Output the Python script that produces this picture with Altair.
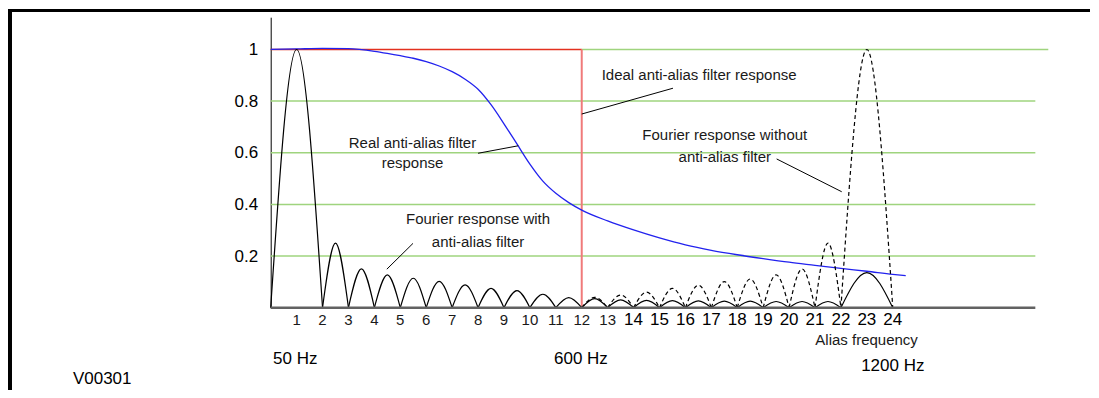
import altair as alt
import pandas as pd

NARROW = "Liberation Sans, Arial, sans-serif"
ARIAL = "Liberation Sans, Arial, sans-serif"

# ---- data ----
y_ticks = [0.2, 0.4, 0.6, 0.8, 1.0]
grid_y = [0.2, 0.4, 0.6, 0.8, 1.0]
grid_x0 = [0, 0, 0, 0, 12]
grid_x1 = [29.5, 29.5, 29.5, 29.5, 30]

xlab_narrow = [str(i) for i in range(1, 14)]
xlab_wide = [str(i) for i in range(14, 25)]

# Fourier response with anti-alias filter (solid arches)
solid_start = [0, 2, 3, 4, 5, 6, 7, 8, 9, 10, 11, 12, 13, 14, 15, 16, 17, 18, 19, 20, 21, 22]
solid_end = [2, 3, 4, 5, 6, 7, 8, 9, 10, 11, 12, 13, 14, 15, 16, 17, 18, 19, 20, 21, 22, 24]
solid_peak = [1.0, 0.25, 0.15, 0.127, 0.114, 0.102, 0.088, 0.075, 0.066, 0.052, 0.039,
              0.035, 0.030, 0.028, 0.027, 0.026, 0.025, 0.025, 0.024, 0.024, 0.024, 0.136]

# Fourier response without anti-alias filter (dashed arches)
dash_start = [12, 13, 14, 15, 16, 17, 18, 19, 20, 21, 22]
dash_end = [13, 14, 15, 16, 17, 18, 19, 20, 21, 22, 24]
dash_peak = [0.040, 0.049, 0.060, 0.075, 0.087, 0.101, 0.111, 0.127, 0.150, 0.250, 1.0]

# Real anti-alias filter response (blue)
real_x = [0, 1, 2, 3, 4, 4.5, 5, 5.5, 6, 6.5, 7, 7.5, 8, 8.5, 9, 9.5, 10, 10.5, 11, 11.5,
          12, 13, 14, 15, 16, 17, 18, 19, 20, 21, 22, 23, 24, 24.5]
real_y = [1.0, 1.002, 1.004, 1.003, 0.993, 0.985, 0.976, 0.966, 0.953, 0.936, 0.914, 0.885,
          0.846, 0.786, 0.712, 0.634, 0.556, 0.49, 0.443, 0.407,
          0.378, 0.336, 0.301, 0.27, 0.243, 0.222, 0.205, 0.19, 0.176,
          0.164, 0.152, 0.141, 0.129, 0.124]

# Ideal anti-alias filter response (red)
ideal_x = [0, 12]
ideal_level = 1.0

# annotations
ann_text = ["Ideal anti-alias filter response", "Real anti-alias filter", "response",
            "Fourier response without", "anti-alias filter",
            "Fourier response with", "anti-alias filter"]
ann_x = [12.77, 5.47, 5.47, 17.52, 17.52, 8.0, 8.0]
ann_y = [0.901, 0.639, 0.560, 0.669, 0.585, 0.342, 0.256]
ann_align = ["left", "center", "center", "center", "center", "center", "center"]

lead_x0 = [12.0, 8.0, 19.52, 4.48]
lead_y0 = [0.750, 0.598, 0.576, 0.149]
lead_x1 = [15.52, 9.55, 22.03, 5.49]
lead_y1 = [0.850, 0.627, 0.449, 0.249]

bottom_text = ["50 Hz", "600 Hz", "1200 Hz", "V00301"]
bottom_x = [0.09, 11.97, 24.0, -7.63]
bottom_y = [-0.199, -0.199, -0.225, -0.276]
bottom_align = ["left", "center", "center", "left"]

# ---- scales ----
W = 29.5 * 25.92
H = 1.125 * 258.2
xs = alt.Scale(domain=[0, 29.5], nice=False, zero=False)
ys = alt.Scale(domain=[0, 1.125], nice=False, zero=False)


def X(f="x"):
    return alt.X(f"{f}:Q", scale=xs, axis=None)


def Y(f="y"):
    return alt.Y(f"{f}:Q", scale=ys,
                 axis=alt.Axis(values=y_ticks, format=".1~f", title=None, ticks=False,
                               grid=False, domainColor="black", domainWidth=1,
                               labelFont=ARIAL, labelFontSize=17, labelColor="black",
                               labelPadding=13))


def arch_table(starts, ends, peaks):
    rows = []
    for i, (s, e, p) in enumerate(zip(starts, ends, peaks)):
        rows += [{"arch": i, "o": 0, "x": s, "y": 0.0},
                 {"arch": i, "o": 1, "x": (s + e) / 2, "y": p},
                 {"arch": i, "o": 2, "x": e, "y": 0.0}]
    return pd.DataFrame(rows)


grid_df = pd.DataFrame({"x": grid_x0, "x2": grid_x1, "y": grid_y})
grid = alt.Chart(grid_df).mark_rule(color="#9fd47e", strokeWidth=1.5).encode(
    x=X(), x2="x2:Q", y=Y())

base_df = pd.DataFrame({"x": [0], "x2": [29.5], "y": [0]})
baseline = alt.Chart(base_df).mark_rule(color="#626262", strokeWidth=2.5).encode(
    x=X(), x2="x2:Q", y=Y())

red_h = alt.Chart(pd.DataFrame({"x": [ideal_x[0]], "x2": [ideal_x[1]], "y": [ideal_level]})).mark_rule(
    color="#e3311f", strokeWidth=1.5).encode(x=X(), x2="x2:Q", y=Y())
red_v = alt.Chart(pd.DataFrame({"x": [ideal_x[1]], "y": [0], "y2": [ideal_level]})).mark_rule(
    color="#f07a7a", strokeWidth=2).encode(x=X(), y=Y(), y2="y2:Q")

blue = alt.Chart(pd.DataFrame({"x": real_x, "y": real_y})).mark_line(
    color="#2222ee", strokeWidth=1.3, interpolate="monotone").encode(x=X(), y=Y())

dashed = alt.Chart(arch_table(dash_start, dash_end, dash_peak)).mark_line(
    color="black", strokeWidth=1.2, strokeDash=[4, 3], interpolate="natural").encode(
    x=X(), y=Y(), detail="arch:N", order="o:Q")
solid = alt.Chart(arch_table(solid_start, solid_end, solid_peak)).mark_line(
    color="black", strokeWidth=1.2, interpolate="natural").encode(
    x=X(), y=Y(), detail="arch:N", order="o:Q")

lead = alt.Chart(pd.DataFrame({"x": lead_x0, "y": lead_y0, "x2": lead_x1, "y2": lead_y1})).mark_rule(
    color="black", strokeWidth=1).encode(x=X(), y=Y(), x2="x2:Q", y2="y2:Q")

ann_df = pd.DataFrame({"x": ann_x, "y": ann_y, "t": ann_text, "a": ann_align})
ann_left = alt.Chart(ann_df[ann_df.a == "left"]).mark_text(
    font=NARROW, fontSize=15, align="left", baseline="middle", color="#1a1a1a").encode(
    x=X(), y=Y(), text="t:N")
ann_center = alt.Chart(ann_df[ann_df.a == "center"]).mark_text(
    font=NARROW, fontSize=15, align="center", baseline="middle", color="#1a1a1a").encode(
    x=X(), y=Y(), text="t:N")

xl_n = alt.Chart(pd.DataFrame({"x": list(range(1, 14)), "y": [-0.047] * 13, "t": xlab_narrow})).mark_text(
    font=NARROW, fontSize=15, align="center", baseline="middle", color="#1a1a1a").encode(
    x=X(), y=Y(), text="t:N")
xl_w = alt.Chart(pd.DataFrame({"x": list(range(14, 25)), "y": [-0.047] * 11, "t": xlab_wide})).mark_text(
    font=ARIAL, fontSize=17, align="center", baseline="middle", color="black").encode(
    x=X(), y=Y(), text="t:N")

alias = alt.Chart(pd.DataFrame({"x": [22.99], "y": [-0.125], "t": ["Alias frequency"]})).mark_text(
    font=NARROW, fontSize=15, align="center", baseline="middle", color="#1a1a1a").encode(
    x=X(), y=Y(), text="t:N")

bot_df = pd.DataFrame({"x": bottom_x, "y": bottom_y, "t": bottom_text, "a": bottom_align})
bot_left = alt.Chart(bot_df[bot_df.a == "left"]).mark_text(
    font=ARIAL, fontSize=17, align="left", baseline="middle", color="black").encode(
    x=X(), y=Y(), text="t:N")
bot_center = alt.Chart(bot_df[bot_df.a == "center"]).mark_text(
    font=ARIAL, fontSize=17, align="center", baseline="middle", color="black").encode(
    x=X(), y=Y(), text="t:N")

dummy = pd.DataFrame({"a": [0]})
frame_top = alt.Chart(dummy).mark_rule(color="black", strokeWidth=3).encode(
    x=alt.value(-262.7), x2=alt.value(830), y=alt.value(-6.7))
frame_left = alt.Chart(dummy).mark_rule(color="black", strokeWidth=4).encode(
    x=alt.value(-260.7), y=alt.value(-8.2), y2=alt.value(380))

chart = alt.layer(
    grid, red_h, red_v, blue, dashed, solid, baseline, lead,
    ann_left, ann_center, xl_n, xl_w, alias, bot_left, bot_center,
    frame_top, frame_left
).properties(
    width=W, height=H,
    autosize=alt.AutoSizeParams(type="none"),
    padding={"left": 262.7, "top": 9.2, "right": 55, "bottom": 82},
).configure_view(stroke=None)

chart.save("out.html", embed_options={"renderer": "svg", "actions": False})
